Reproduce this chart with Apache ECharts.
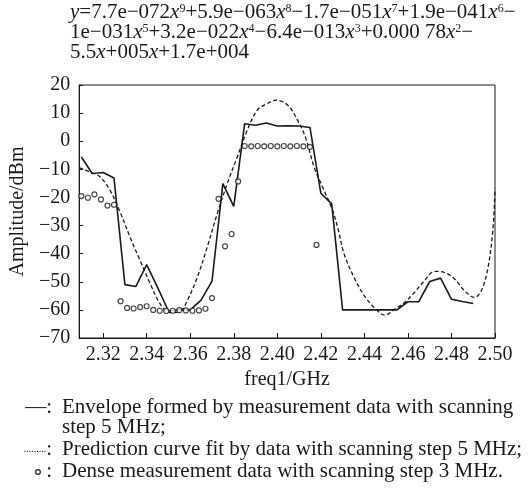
<!DOCTYPE html>
<html>
<head>
<meta charset="utf-8">
<script src="https://cdn.jsdelivr.net/npm/echarts@6/dist/echarts.min.js"></script>
<style>
html,body{margin:0;padding:0;background:#fff;}
#c{width:528px;height:490px;}
</style>
</head>
<body>
<div id="c"></div>
<script>
// ---- data ----
const xTickLabels = [2.32, 2.34, 2.36, 2.38, 2.40, 2.42, 2.44, 2.46, 2.48, 2.50];

// envelope, 5 MHz step (solid)
const envFreq = [2.310,2.315,2.320,2.325,2.330,2.335,2.340,2.345,2.350,2.355,2.360,2.365,2.370,2.375,2.380,2.385,2.390,2.395,2.400,2.405,2.410,2.415,2.420,2.425,2.430,2.435,2.440,2.445,2.450,2.455,2.460,2.465,2.470,2.475,2.480,2.485,2.490];
const envAmp  = [-5.6,-11.5,-11.1,-13.1,-51.0,-51.7,-43.9,-52.0,-60.4,-60.0,-60.0,-56.5,-49.8,-15.1,-23.2,6.2,5.7,6.5,5.4,5.5,5.4,4.9,-18.5,-22.3,-60.0,-60.0,-60.0,-60.0,-60.0,-60.0,-57.1,-57.1,-49.9,-48.7,-56.2,-57.0,-57.7];

// prediction curve (dashed)
const fitFreq = [2.309,2.314,2.3186,2.3232,2.3278,2.3324,2.337,2.3417,2.3463,2.3509,2.3555,2.3586,2.3632,2.3678,2.3724,2.377,2.3816,2.3862,2.3908,2.3954,2.3993,2.4047,2.4093,2.4131,2.4169,2.4208,2.4254,2.4280,2.4307,2.4353,2.440,2.4446,2.4495,2.4538,2.4584,2.463,2.4676,2.4722,2.4768,2.4814,2.486,2.4906,2.4937,2.4968,2.499,2.500];
const fitAmp  = [-9.4,-11.0,-12.7,-17.5,-25.2,-34.2,-42.5,-50.8,-58.0,-61.0,-60.4,-56.8,-48.5,-37.7,-25.8,-15.1,-5.6,3.9,11.1,13.4,14.6,12.9,7.5,1.0,-9.2,-16.3,-24.6,-31.5,-40.1,-48.5,-55.0,-59.2,-61.9,-59.8,-57.4,-53.8,-49.6,-46.3,-46.7,-49.0,-53.2,-55.6,-53.2,-44.9,-31.8,-16.9];

// dense measurement, 3 MHz step (circles)
const denseFreq = [2.310,2.313,2.316,2.319,2.322,2.325,2.328,2.331,2.334,2.337,2.340,2.343,2.346,2.349,2.352,2.355,2.358,2.361,2.364,2.367,2.370,2.373,2.376,2.379,2.382,2.385,2.388,2.391,2.394,2.397,2.400,2.403,2.406,2.409,2.412,2.415,2.418];
const denseAmp  = [-19.5,-20.1,-18.9,-20.7,-22.9,-22.6,-56.9,-59.3,-59.5,-59.0,-58.7,-60.0,-60.3,-60.4,-60.3,-60.1,-60.2,-60.3,-60.2,-59.6,-55.8,-20.5,-37.4,-33.0,-14.3,-1.7,-1.8,-1.7,-1.8,-1.7,-1.8,-1.7,-1.8,-1.7,-1.8,-2.0,-36.9];

const eqLines = [
  '{i|y}=7.7e\u2212072{i|x}{s|9}+5.9e\u2212063{i|x}{s|8}\u22121.7e\u2212051{i|x}{s|7}+1.9e\u2212041{i|x}{s|6}\u2212',
  '1e\u2212031{i|x}{s|5}+3.2e\u2212022{i|x}{s|4}\u22126.4e\u2212013{i|x}{s|3}+0.000 78{i|x}{s|2}\u2212',
  '5.5{i|x}+005{i|x}+1.7e+004'
];
const legendLines = [
  'Envelope formed by measurement data with scanning',
  'step 5 MHz;',
  'Prediction curve fit by data with scanning step 5 MHz;',
  'Dense measurement data with scanning step 3 MHz.'
];
const xName = 'freq1/GHz';
const yName = 'Amplitude/dBm';

// ---- chart ----
const FONT = 'Liberation Serif';
const INK = '#1a1a1a';
const LF = 21;
const zip = (a, b) => a.map((v, i) => [v, b[i]]);

const chart = echarts.init(document.getElementById('c'), null, {renderer: 'canvas'});

function txt(x, y, text, align) {
  return {
    type: 'text', x: x, y: y, silent: true,
    style: {
      text: text, fontSize: LF, fontFamily: FONT, fill: INK,
      align: align, textAlign: align,
      verticalAlign: 'middle', textVerticalAlign: 'middle'
    }
  };
}

const option = {
  animation: false,
  backgroundColor: '#fff',
  grid: {left: 79, right: 33, top: 85, bottom: 152, show: true, borderColor: INK, borderWidth: 1, backgroundColor: 'transparent'},
  xAxis: {
    type: 'value', min: 2.309, max: 2.50,
    axisLine: {show: true, onZero: false, lineStyle: {color: INK, width: 1}},
    axisTick: {show: true, inside: true, length: 5, customValues: xTickLabels, lineStyle: {color: INK}},
    axisLabel: {customValues: xTickLabels, formatter: v => v.toFixed(2), margin: 7, fontSize: 20, fontFamily: FONT, color: INK},
    splitLine: {show: false},
    name: xName, nameLocation: 'middle', nameGap: 30,
    nameTextStyle: {fontSize: 20, fontFamily: FONT, color: INK}
  },
  yAxis: {
    type: 'value', min: -70, max: 20, interval: 10,
    axisLine: {show: true, lineStyle: {color: INK, width: 1}},
    axisTick: {show: true, inside: true, length: 4, lineStyle: {color: INK}},
    axisLabel: {formatter: v => String(v).replace('-', '\u2212'), margin: 9, fontSize: 20, fontFamily: FONT, color: INK},
    splitLine: {show: false},
    name: yName, nameLocation: 'middle', nameGap: 51, nameRotate: 90,
    nameTextStyle: {fontSize: 20, fontFamily: FONT, color: INK}
  },
  series: [
    {
      name: 'envelope', type: 'line', data: zip(envFreq, envAmp),
      showSymbol: false, symbol: 'none', z: 3,
      lineStyle: {color: INK, width: 1.6}
    },
    {
      name: 'fit', type: 'line', data: zip(fitFreq, fitAmp),
      showSymbol: false, symbol: 'none', smooth: 0.35, z: 2,
      lineStyle: {color: INK, width: 1.3, type: [4, 2.5]}
    },
    {
      name: 'dense', type: 'scatter', data: zip(denseFreq, denseAmp),
      symbol: 'circle', symbolSize: 5, z: 4,
      itemStyle: {color: '#fff', borderColor: INK, borderWidth: 1.2}
    }
  ],
  graphic: [
    {
      type: 'text', left: 70, top: 2, silent: true,
      style: {
        text: eqLines.join('\n'), fontSize: LF, fontFamily: FONT, fill: INK, lineHeight: 20,
        rich: {
          i: {fontSize: LF, fontFamily: FONT, fontStyle: 'italic', fill: INK, lineHeight: 20},
          s: {fontSize: 12, fontFamily: FONT, fill: INK, lineHeight: 12, verticalAlign: 'top'}
        }
      }
    },
    txt(52, 407, '\u2014:', 'right'),
    txt(62, 407, legendLines[0], 'left'),
    txt(62, 427, legendLines[1], 'left'),
    {
      type: 'text', x: 52, y: 449, silent: true,
      style: {
        text: '{d|.........}:', fontSize: LF, fontFamily: FONT, fill: INK,
        align: 'right', textAlign: 'right', verticalAlign: 'middle', textVerticalAlign: 'middle',
        rich: {d: {fontSize: 10, fontFamily: FONT, fill: INK}}
      }
    },
    txt(62, 449, legendLines[2], 'left'),
    {
      type: 'circle', silent: true, shape: {cx: 38, cy: 472, r: 2.3},
      style: {fill: '#fff', stroke: INK, lineWidth: 1.2}
    },
    txt(52, 471, ':', 'right'),
    txt(62, 471, legendLines[3], 'left')
  ]
};
chart.setOption(option);
</script>
</body>
</html>
